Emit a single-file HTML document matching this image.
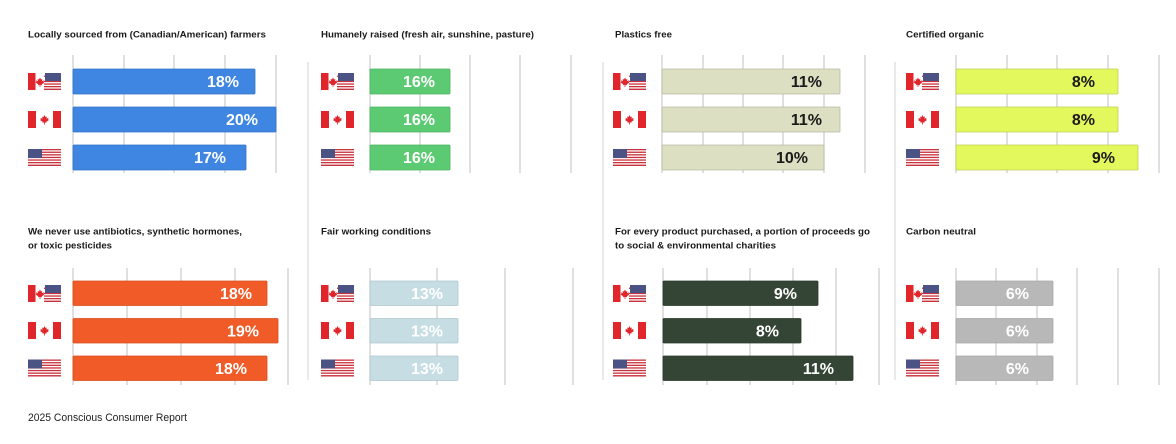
<!DOCTYPE html>
<html><head><meta charset="utf-8">
<style>
html,body{margin:0;padding:0;background:#fff;}
svg{display:block;}
text{font-family:"Liberation Sans",Arial,sans-serif;}
.t{font-size:9.5px;font-weight:bold;fill:#1a1a1a;}
.l{font-size:16px;font-weight:bold;text-anchor:end;}
.g{stroke:#cfcfcf;stroke-width:1.3;}
.s{stroke:#e2e2e2;stroke-width:1.5;}
</style></head>
<body>
<svg width="1176" height="444" viewBox="0 0 1176 444" xmlns="http://www.w3.org/2000/svg">
<defs>
<symbol id="leaf" viewBox="-5 -5 10 10">
<polygon points="0,-4.5 1,-2.5 2.3,-3 2,-0.8 4,-1.8 3.6,0 4.5,0.5 1.8,2.2 2,3.2 0.4,2.9 0.4,5 -0.4,5 -0.4,2.9 -2,3.2 -1.8,2.2 -4.5,0.5 -3.6,0 -4,-1.8 -2,-0.8 -2.3,-3 -1,-2.5" fill="#e0252b"/>
</symbol>
<symbol id="us" viewBox="0 0 33 17">
<rect x="0" y="0" width="33" height="17" fill="#fff"/>
<rect x="0" y="0" width="33" height="1.3" fill="#c8323c"/>
<rect x="0" y="2.6" width="33" height="1.3" fill="#c8323c"/>
<rect x="0" y="5.2" width="33" height="1.3" fill="#c8323c"/>
<rect x="0" y="7.8" width="33" height="1.3" fill="#c8323c"/>
<rect x="0" y="10.4" width="33" height="1.3" fill="#c8323c"/>
<rect x="0" y="13" width="33" height="1.3" fill="#c8323c"/>
<rect x="0" y="15.6" width="33" height="1.4" fill="#c8323c"/>
<rect x="0" y="0" width="14" height="9" fill="#4b5384"/>
</symbol>
<symbol id="ca" viewBox="0 0 33 17">
<rect x="0" y="0" width="33" height="17" fill="#fff"/>
<rect x="0" y="0" width="8" height="17" fill="#e0252b"/>
<rect x="25" y="0" width="8" height="17" fill="#e0252b"/>
<use href="#leaf" x="11.5" y="3.5" width="10" height="10"/>
</symbol>
<symbol id="cu" viewBox="0 0 33 17">
<rect x="0" y="0" width="33" height="17" fill="#fff"/>
<rect x="0" y="0" width="7.5" height="17" fill="#e0252b"/>
<use href="#leaf" x="7" y="4" width="10" height="10"/>
<rect x="16" y="0" width="17" height="17" fill="#fff"/>
<rect x="16" y="2.6" width="17" height="1.3" fill="#c8323c"/>
<rect x="16" y="7.8" width="17" height="1.3" fill="#c8323c"/>
<rect x="16" y="10.4" width="17" height="1.3" fill="#c8323c"/>
<rect x="16" y="13" width="17" height="1.3" fill="#c8323c"/>
<rect x="16" y="15.6" width="17" height="1.4" fill="#c8323c"/>
<rect x="17" y="0" width="16" height="8" fill="#4b5384"/>
</symbol>
</defs>

<!-- separators -->
<line class="s" x1="308" y1="62" x2="308" y2="380"/>
<line class="s" x1="603" y1="62" x2="603" y2="380"/>
<line class="s" x1="895" y1="62" x2="895" y2="380"/>

<!-- ========== TOP ROW ========== -->
<!-- Panel 1 -->
<text class="t" x="28" y="37.5" textLength="238" lengthAdjust="spacingAndGlyphs">Locally sourced from (Canadian/American) farmers</text>
<g class="g"><line x1="73" y1="55" x2="73" y2="173"/><line x1="124" y1="55" x2="124" y2="173"/><line x1="174" y1="55" x2="174" y2="173"/><line x1="225" y1="55" x2="225" y2="173"/><line x1="276" y1="55" x2="276" y2="173"/></g>
<g fill="#3e86e1" stroke="#3474c7" stroke-width="0.8">
<rect x="73" y="69" width="182" height="25" rx="1"/>
<rect x="73" y="107" width="203" height="25" rx="1"/>
<rect x="73" y="145" width="173" height="25" rx="1"/>
</g>
<g class="l" fill="#fff"><text x="239" y="87">18%</text><text x="258" y="125">20%</text><text x="226" y="163">17%</text></g>
<use href="#cu" x="28" y="73" width="33" height="17"/>
<use href="#ca" x="28" y="111" width="33" height="17"/>
<use href="#us" x="28" y="149" width="33" height="17"/>

<!-- Panel 2 -->
<text class="t" x="321" y="37.5" textLength="213" lengthAdjust="spacingAndGlyphs">Humanely raised (fresh air, sunshine, pasture)</text>
<g class="g"><line x1="370" y1="55" x2="370" y2="173"/><line x1="420" y1="55" x2="420" y2="173"/><line x1="470" y1="55" x2="470" y2="173"/><line x1="520" y1="55" x2="520" y2="173"/><line x1="571" y1="55" x2="571" y2="173"/></g>
<g fill="#5cca72" stroke="#4db463" stroke-width="0.8">
<rect x="370" y="69" width="80" height="25" rx="1"/>
<rect x="370" y="107" width="80" height="25" rx="1"/>
<rect x="370" y="145" width="80" height="25" rx="1"/>
</g>
<g class="l" fill="#fff"><text x="435" y="87">16%</text><text x="435" y="125">16%</text><text x="435" y="163">16%</text></g>
<use href="#cu" x="321" y="73" width="33" height="17"/>
<use href="#ca" x="321" y="111" width="33" height="17"/>
<use href="#us" x="321" y="149" width="33" height="17"/>

<!-- Panel 3 -->
<text class="t" x="615" y="37.5" textLength="57" lengthAdjust="spacingAndGlyphs">Plastics free</text>
<g class="g"><line x1="662" y1="55" x2="662" y2="173"/><line x1="703" y1="55" x2="703" y2="173"/><line x1="743" y1="55" x2="743" y2="173"/><line x1="783" y1="55" x2="783" y2="173"/><line x1="824" y1="55" x2="824" y2="173"/><line x1="865" y1="55" x2="865" y2="173"/></g>
<g fill="#dcdfc1" stroke="#b9bba5" stroke-width="0.8">
<rect x="662" y="69" width="178" height="25" rx="1"/>
<rect x="662" y="107" width="178" height="25" rx="1"/>
<rect x="662" y="145" width="162" height="25" rx="1"/>
</g>
<g class="l" fill="#1a1a1a"><text x="822" y="87">11%</text><text x="822" y="125">11%</text><text x="808" y="163">10%</text></g>
<use href="#cu" x="613" y="73" width="33" height="17"/>
<use href="#ca" x="613" y="111" width="33" height="17"/>
<use href="#us" x="613" y="149" width="33" height="17"/>

<!-- Panel 4 -->
<text class="t" x="906" y="37.5" textLength="78" lengthAdjust="spacingAndGlyphs">Certified organic</text>
<g class="g"><line x1="956" y1="55" x2="956" y2="173"/><line x1="1007" y1="55" x2="1007" y2="173"/><line x1="1057" y1="55" x2="1057" y2="173"/><line x1="1108" y1="55" x2="1108" y2="173"/><line x1="1159" y1="55" x2="1159" y2="173"/></g>
<g fill="#e3f85c" stroke="#c0cf5a" stroke-width="0.8">
<rect x="956" y="69" width="162" height="25" rx="1"/>
<rect x="956" y="107" width="162" height="25" rx="1"/>
<rect x="956" y="145" width="182" height="25" rx="1"/>
</g>
<g class="l" fill="#1a1a1a"><text x="1095" y="87">8%</text><text x="1095" y="125">8%</text><text x="1115" y="163">9%</text></g>
<use href="#cu" x="906" y="73" width="33" height="17"/>
<use href="#ca" x="906" y="111" width="33" height="17"/>
<use href="#us" x="906" y="149" width="33" height="17"/>

<!-- ========== BOTTOM ROW ========== -->
<!-- Panel 5 -->
<text class="t" x="28" y="234.5" textLength="214" lengthAdjust="spacingAndGlyphs">We never use antibiotics, synthetic hormones,</text>
<text class="t" x="28" y="248.5" textLength="84" lengthAdjust="spacingAndGlyphs">or toxic pesticides</text>
<g class="g"><line x1="73" y1="268" x2="73" y2="385"/><line x1="127" y1="268" x2="127" y2="385"/><line x1="181" y1="268" x2="181" y2="385"/><line x1="235" y1="268" x2="235" y2="385"/><line x1="288" y1="268" x2="288" y2="385"/></g>
<g fill="#f05b27" stroke="#d84d1e" stroke-width="0.8">
<rect x="73" y="281" width="194" height="24.5" rx="1"/>
<rect x="73" y="318.5" width="205" height="24.5" rx="1"/>
<rect x="73" y="356" width="194" height="24.5" rx="1"/>
</g>
<g class="l" fill="#fff"><text x="252" y="299">18%</text><text x="259" y="336.5">19%</text><text x="247" y="374">18%</text></g>
<use href="#cu" x="28" y="285" width="33" height="17"/>
<use href="#ca" x="28" y="322" width="33" height="17"/>
<use href="#us" x="28" y="359.5" width="33" height="17"/>

<!-- Panel 6 -->
<text class="t" x="321" y="234.5" textLength="110" lengthAdjust="spacingAndGlyphs">Fair working conditions</text>
<g class="g"><line x1="370" y1="268" x2="370" y2="385"/><line x1="437" y1="268" x2="437" y2="385"/><line x1="505" y1="268" x2="505" y2="385"/><line x1="573" y1="268" x2="573" y2="385"/></g>
<g fill="#c7dde4" stroke="#b0c6cd" stroke-width="0.8">
<rect x="370" y="281" width="88" height="24.5" rx="1"/>
<rect x="370" y="318.5" width="88" height="24.5" rx="1"/>
<rect x="370" y="356" width="88" height="24.5" rx="1"/>
</g>
<g class="l" fill="#fff"><text x="443" y="299">13%</text><text x="443" y="336.5">13%</text><text x="443" y="374">13%</text></g>
<use href="#cu" x="321" y="285" width="33" height="17"/>
<use href="#ca" x="321" y="322" width="33" height="17"/>
<use href="#us" x="321" y="359.5" width="33" height="17"/>

<!-- Panel 7 -->
<text class="t" x="615" y="234.5" textLength="255" lengthAdjust="spacingAndGlyphs">For every product purchased, a portion of proceeds go</text>
<text class="t" x="615" y="248.5" textLength="161" lengthAdjust="spacingAndGlyphs">to social &amp; environmental charities</text>
<g class="g"><line x1="663" y1="268" x2="663" y2="385"/><line x1="707" y1="268" x2="707" y2="385"/><line x1="750" y1="268" x2="750" y2="385"/><line x1="793" y1="268" x2="793" y2="385"/><line x1="836" y1="268" x2="836" y2="385"/><line x1="879" y1="268" x2="879" y2="385"/></g>
<g fill="#344535" stroke="#2a382b" stroke-width="0.8">
<rect x="663" y="281" width="155" height="24.5" rx="1"/>
<rect x="663" y="318.5" width="138" height="24.5" rx="1"/>
<rect x="663" y="356" width="190" height="24.5" rx="1"/>
</g>
<g class="l" fill="#fff"><text x="797" y="299">9%</text><text x="779" y="336.5">8%</text><text x="834" y="374">11%</text></g>
<use href="#cu" x="613" y="285" width="33" height="17"/>
<use href="#ca" x="613" y="322" width="33" height="17"/>
<use href="#us" x="613" y="359.5" width="33" height="17"/>

<!-- Panel 8 -->
<text class="t" x="906" y="234.5" textLength="70" lengthAdjust="spacingAndGlyphs">Carbon neutral</text>
<g class="g"><line x1="956" y1="268" x2="956" y2="385"/><line x1="996" y1="268" x2="996" y2="385"/><line x1="1037" y1="268" x2="1037" y2="385"/><line x1="1077" y1="268" x2="1077" y2="385"/><line x1="1118" y1="268" x2="1118" y2="385"/><line x1="1159" y1="268" x2="1159" y2="385"/></g>
<g fill="#b8b8b8" stroke="#a8a8a8" stroke-width="0.8">
<rect x="956" y="281" width="97" height="24.5" rx="1"/>
<rect x="956" y="318.5" width="97" height="24.5" rx="1"/>
<rect x="956" y="356" width="97" height="24.5" rx="1"/>
</g>
<g class="l" fill="#fff"><text x="1029" y="299">6%</text><text x="1029" y="336.5">6%</text><text x="1029" y="374">6%</text></g>
<use href="#cu" x="906" y="285" width="33" height="17"/>
<use href="#ca" x="906" y="322" width="33" height="17"/>
<use href="#us" x="906" y="359.5" width="33" height="17"/>

<!-- footer -->
<text x="28" y="421" font-size="11" fill="#222" textLength="159" lengthAdjust="spacingAndGlyphs">2025 Conscious Consumer Report</text>
</svg>
</body></html>
